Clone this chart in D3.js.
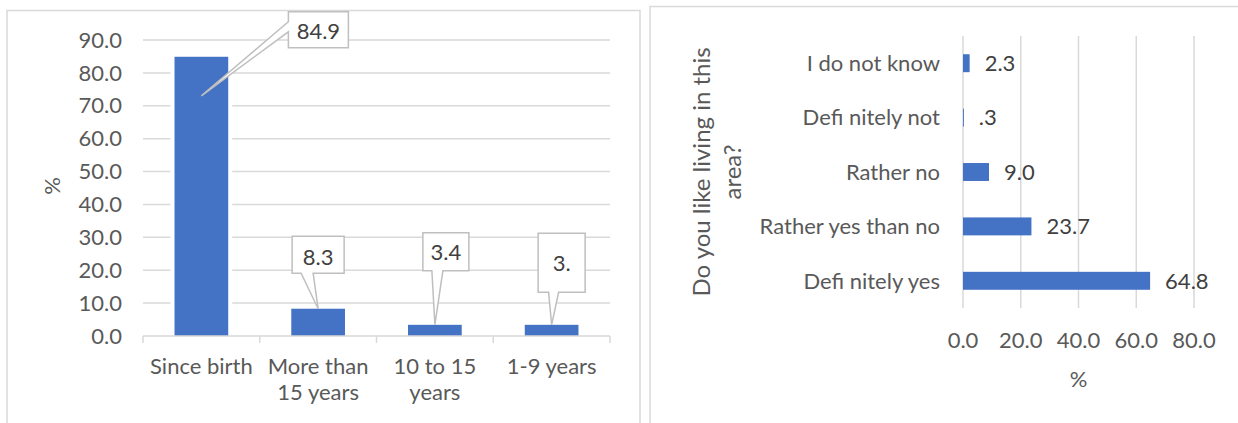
<!DOCTYPE html>
<html>
<head>
<meta charset="utf-8">
<script src="https://cdn.jsdelivr.net/npm/d3@7"></script>
<style>
  html, body { margin: 0; padding: 0; background: #fff; }
  svg { display: block; font-family: Lato, "Open Sans", sans-serif; }
</style>
</head>
<body>
<svg id="chart" width="1238" height="423"></svg>
<script>
// Length of residence (left chart)
const residenceCategories = [["Since birth"], ["More than", "15 years"], ["10 to 15", "years"], ["1-9 years"]];
const residenceValues = [84.9, 8.3, 3.4, 3.4];
const residenceLabels = ["84.9", "8.3", "3.4", "3."];
const residenceTicks = [0, 10, 20, 30, 40, 50, 60, 70, 80, 90];

// Satisfaction with the area (right chart)
const likeCategories = ["I do not know", "Defi nitely not", "Rather no", "Rather yes than no", "Defi nitely yes"];
const likeValues = [2.3, 0.3, 9.0, 23.7, 64.8];
const likeLabels = ["2.3", ".3", "9.0", "23.7", "64.8"];
const likeTicks = [0, 20, 40, 60, 80];

const BLUE = "#4472c4";
const GRID = "#d9d9d9";
const TEXT = "#595959";
const FONT = 22;

const svg = d3.select("#chart");

// Panel frames
svg.append("rect").attr("x", 7).attr("y", 10.5).attr("width", 633).attr("height", 430)
  .attr("fill", "none").attr("stroke", GRID).attr("stroke-width", 1.5);
svg.append("rect").attr("x", 650).attr("y", 6.5).attr("width", 600).attr("height", 430)
  .attr("fill", "none").attr("stroke", GRID).attr("stroke-width", 1.5);

// ---------- Left: column chart ----------
const L = { left: 143, right: 610, top: 40, bottom: 336 };
const xL = d3.scaleBand().domain(d3.range(residenceValues.length))
  .range([L.left, L.right]).paddingInner(0.54).paddingOuter(0.27);
const yL = d3.scaleLinear().domain([0, 90]).range([L.bottom, L.top]);

const gL = svg.append("g");

// horizontal gridlines
gL.append("g").selectAll("line").data(residenceTicks.slice(1)).join("line")
  .attr("x1", L.left).attr("x2", L.right)
  .attr("y1", d => yL(d)).attr("y2", d => yL(d))
  .attr("stroke", GRID).attr("stroke-width", 1.5);

// y axis tick labels
gL.append("g").selectAll("text").data(residenceTicks).join("text")
  .attr("x", 122).attr("y", d => yL(d)).attr("dy", "0.35em")
  .attr("text-anchor", "end").attr("fill", TEXT).attr("font-size", FONT)
  .text(d => d3.format(".1f")(d));

// y axis title
gL.append("text")
  .attr("transform", `translate(60,${(L.top + L.bottom) / 2 - 2}) rotate(-90)`)
  .attr("text-anchor", "middle").attr("fill", TEXT).attr("font-size", FONT)
  .text("%");

// white halo behind bars, then bars
gL.append("g").selectAll("rect").data(residenceValues).join("rect")
  .attr("x", (d, i) => xL(i) - 4).attr("width", xL.bandwidth() + 8)
  .attr("y", d => yL(d) - 4).attr("height", d => yL(0) - yL(d) + 4)
  .attr("fill", "#fff");
gL.append("g").selectAll("rect").data(residenceValues).join("rect")
  .attr("x", (d, i) => xL(i)).attr("width", xL.bandwidth())
  .attr("y", d => yL(d)).attr("height", d => yL(0) - yL(d))
  .attr("fill", BLUE);

// category axis line with boundary ticks
gL.append("line").attr("x1", L.left).attr("x2", L.right)
  .attr("y1", L.bottom).attr("y2", L.bottom)
  .attr("stroke", GRID).attr("stroke-width", 1.5);
const boundaries = d3.range(residenceValues.length + 1).map(i => L.left + i * xL.step());
gL.append("g").selectAll("line").data(boundaries).join("line")
  .attr("x1", d => d).attr("x2", d => d)
  .attr("y1", L.bottom).attr("y2", L.bottom + 7)
  .attr("stroke", GRID).attr("stroke-width", 1.5);

// category labels
gL.append("g").selectAll("text").data(residenceCategories).join("text")
  .attr("x", (d, i) => xL(i) + xL.bandwidth() / 2)
  .attr("y", 374)
  .attr("text-anchor", "middle").attr("fill", TEXT).attr("font-size", FONT)
  .each(function (lines) {
    d3.select(this).selectAll("tspan").data(lines).join("tspan")
      .attr("x", d3.select(this).attr("x"))
      .attr("dy", (d, k) => k === 0 ? 0 : 26)
      .text(d => d);
  });

// callout layout: box centre offset from the bar top, box size, pointer geometry
const callouts = [
  { dx: 117, dy: -27, w: 60, h: 36, side: "left", b0: 3, b1: 13, tipDy: 39, ty: 2 },
  { dx: 0, dy: -54, w: 52, h: 37, side: "bottom", b0: -17, b1: -5, tipDy: 0, ty: 3 },
  { dx: 11, dy: -73, w: 46, h: 38, side: "bottom", b0: -14, b1: -3, tipDy: 0, ty: 0 },
  { dx: 10, dy: -62, w: 47, h: 59, side: "bottom", b0: -13, b1: -3, tipDy: 0, ty: 0 }
];

const gC = gL.append("g");
residenceValues.forEach((v, i) => {
  const c = callouts[i];
  const bx = xL(i) + xL.bandwidth() / 2;
  const by = yL(v);
  const cx = bx + c.dx, cy = by + c.dy;
  const x0 = cx - c.w / 2, x1 = cx + c.w / 2, y0 = cy - c.h / 2, y1 = cy + c.h / 2;
  const tx = bx, ty = by + c.tipDy;
  let p;
  if (c.side === "left") {
    p = `M${x0},${y0}H${x1}V${y1}H${x0}V${y0 + c.b1 + 7}L${tx},${ty}L${x0},${y0 + c.b0 + 7}Z`;
  } else {
    p = `M${x0},${y0}H${x1}V${y1}H${cx + c.b1}L${tx},${ty}L${cx + c.b0},${y1}H${x0}Z`;
  }
  gC.append("path").attr("d", p).attr("fill", "#fff")
    .attr("stroke", "#bfbfbf").attr("stroke-width", 1.5).attr("stroke-linejoin", "miter");
  gC.append("text").attr("x", cx).attr("y", cy + c.ty).attr("dy", "0.35em")
    .attr("text-anchor", "middle").attr("fill", "#404040").attr("font-size", FONT)
    .text(residenceLabels[i]);
});

// ---------- Right: horizontal bar chart ----------
const R = { left: 963, right: 1194, top: 36, bottom: 308 };
const xR = d3.scaleLinear().domain([0, 80]).range([R.left, R.right]);
const yR = d3.scaleBand().domain(likeCategories)
  .range([R.top, R.bottom]).paddingInner(0.67).paddingOuter(0.335);

const gR = svg.append("g");

// vertical gridlines
gR.append("g").selectAll("line").data(likeTicks).join("line")
  .attr("x1", d => xR(d)).attr("x2", d => xR(d))
  .attr("y1", R.top).attr("y2", R.bottom)
  .attr("stroke", GRID).attr("stroke-width", 1.5);

// bars
gR.append("g").selectAll("rect").data(likeValues).join("rect")
  .attr("x", xR(0)).attr("y", (d, i) => yR(likeCategories[i]))
  .attr("width", d => xR(d) - xR(0)).attr("height", yR.bandwidth())
  .attr("fill", BLUE);

// value labels
gR.append("g").selectAll("text").data(likeValues).join("text")
  .attr("x", d => xR(d) + 15)
  .attr("y", (d, i) => yR(likeCategories[i]) + yR.bandwidth() / 2).attr("dy", "0.35em")
  .attr("fill", "#404040").attr("font-size", FONT)
  .text((d, i) => likeLabels[i]);

// category labels
gR.append("g").selectAll("text").data(likeCategories).join("text")
  .attr("x", 940).attr("y", d => yR(d) + yR.bandwidth() / 2).attr("dy", "0.35em")
  .attr("text-anchor", "end").attr("fill", TEXT).attr("font-size", FONT)
  .text(d => d);

// x tick labels
gR.append("g").selectAll("text").data(likeTicks).join("text")
  .attr("x", d => xR(d)).attr("y", 340).attr("dy", "0.35em")
  .attr("text-anchor", "middle").attr("fill", TEXT).attr("font-size", FONT)
  .text(d => d3.format(".1f")(d));

// x axis title
gR.append("text").attr("x", xR(40)).attr("y", 379).attr("dy", "0.35em")
  .attr("text-anchor", "middle").attr("fill", TEXT).attr("font-size", FONT)
  .text("%");

// y axis title (two lines)
const yTitle = gR.append("text")
  .attr("transform", `translate(0,172) rotate(-90)`)
  .attr("text-anchor", "middle").attr("fill", TEXT).attr("font-size", 24);
yTitle.append("tspan").attr("x", 0).attr("y", 710).text("Do you like living in this");
yTitle.append("tspan").attr("x", 0).attr("y", 741).text("area?");
</script>
</body>
</html>
